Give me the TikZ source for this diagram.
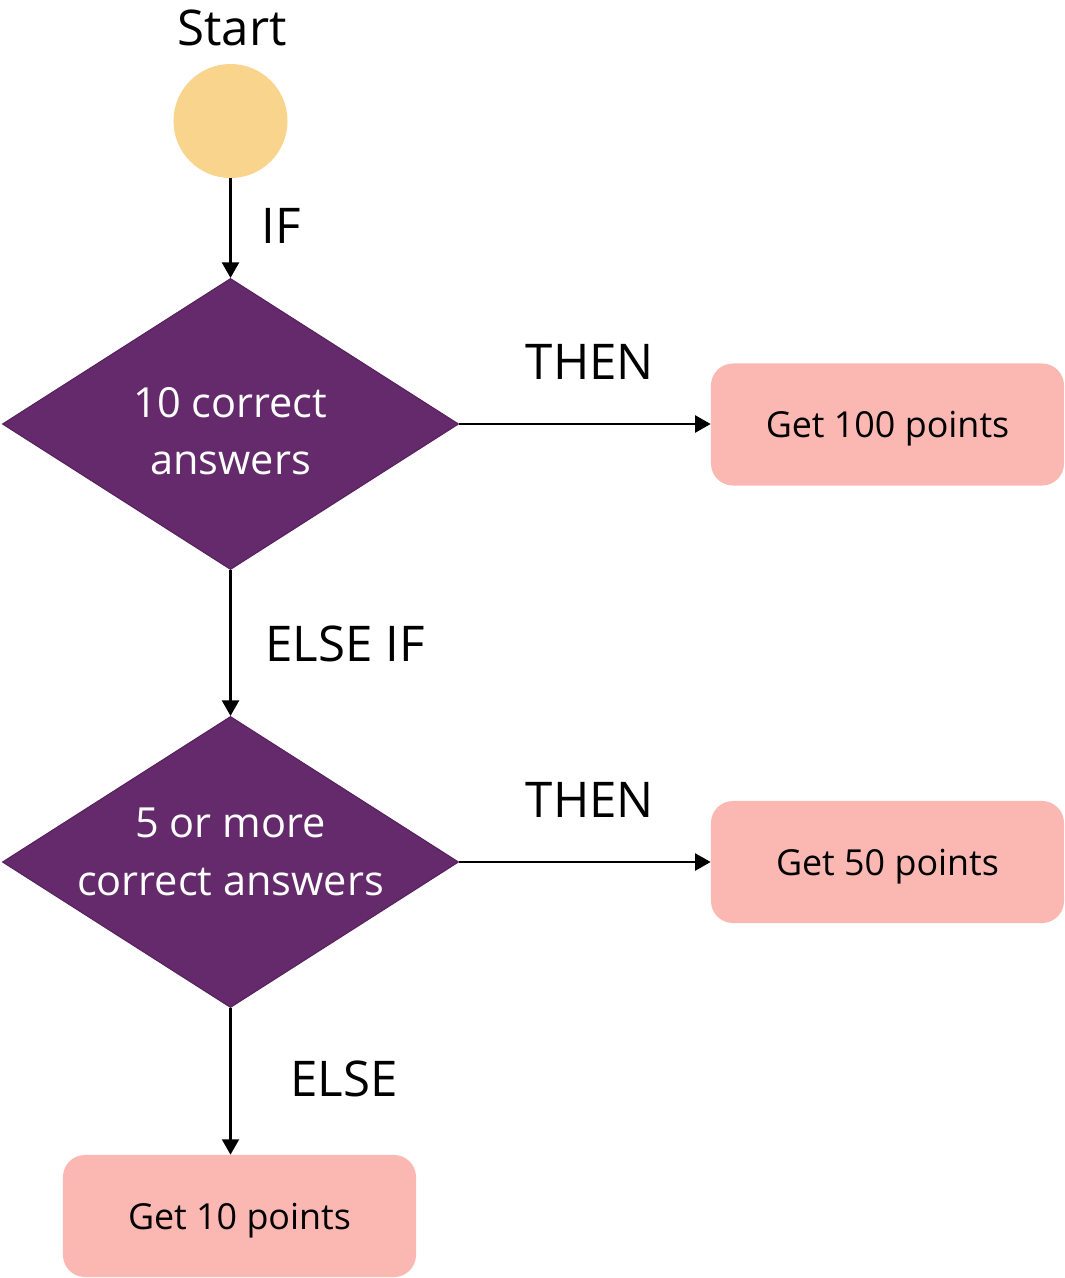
\documentclass[tikz,border=0pt]{standalone}
\usepackage{fontspec}
\setmainfont{Open Sans}
\usetikzlibrary{shapes.geometric,arrows.meta}
\begin{document}
\begin{tikzpicture}[x=0.025cm, y=-0.025cm,
flow/.style={-{Triangle[length=11pt,width=12pt]}, line width=1.8pt},
tag/.style={anchor=base, font=\fontsize{35}{42}\selectfont},
test/.style={diamond, draw=MyPurpleDark, line width=0.8pt, fill=MyPurple, minimum width=11.4cm, minimum height=7.275cm, inner sep=0pt},
testtext/.style={text=white, align=center, font=\fontsize{29.5}{41}\selectfont},
result/.style={rectangle, rounded corners=0.55cm, fill=MyPink, minimum width=8.825cm, minimum height=3.05cm, text depth=0pt, font=\fontsize{25.5}{30}\selectfont}]
\definecolor{MyYellow}{RGB}{249, 212, 140}
\definecolor{MyPurple}{RGB}{101, 42, 108}
\definecolor{MyPurpleDark}{RGB}{88, 34, 95}
\definecolor{MyPink}{RGB}{251, 184, 179}
\useasboundingbox (0,0) rectangle (1065,1278);
\node[circle, fill=MyYellow, minimum size=2.85cm, inner sep=0pt] (start) at (230.5,121) {};
\node[test] (q1) at (230.5,424) {};
\node[test] (q2) at (230.5,862) {};
\node[testtext] (q1text) at (230.5,431) {10 correct\\answers};
\node[testtext] (q2text) at (230.5,852) {5 or more\\correct answers};
\node[result] (r1) at (887.5,424.5) {Get 100 points};
\node[result] (r2) at (887.5,862) {Get 50 points};
\node[result] (r3) at (239.5,1216) {Get 10 points};
\foreach \x/\y/\n/\t in {232/45/lstart/Start, 281/243/lif/IF, 590/379/lthen1/THEN, 590/817/lthen2/THEN, 345/661/lelseif/ELSE IF, 344/1096/lelse/ELSE}{
\node[tag] (\n) at (\x, \y) {\t};
}
\draw[flow] (start) -- (q1);
\draw[flow] (q1) -- (q2);
\draw[flow] (q1.east) -- (r1.west |- q1.east);
\draw[flow] (q2.east) -- (r2.west |- q2.east);
\draw[flow] (q2.south) -- (q2.south |- r3.north);
\end{tikzpicture}
\end{document}
